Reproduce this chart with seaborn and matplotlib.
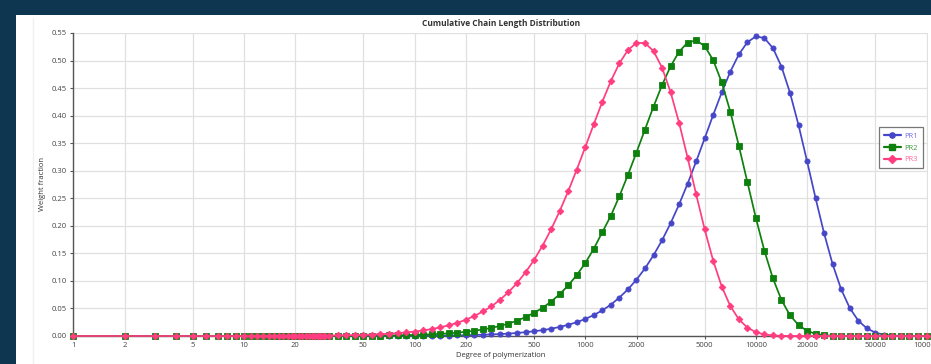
import matplotlib
matplotlib.use("Agg")
import matplotlib.pyplot as plt
from matplotlib.patches import Rectangle
from matplotlib.lines import Line2D
import seaborn as sns
import pandas as pd

# degree of polymerization (x grid): integers up to 30, then 20 points per decade
dp = [1, 2, 3, 4, 5, 6, 7, 8, 9, 10, 11, 12, 13, 14, 15, 16, 17, 18, 19, 20,
      21, 22, 23, 24, 25, 26, 27, 28, 29, 30,
      31.62, 35.48, 39.81, 44.67, 50.12, 56.23, 63.10, 70.79, 79.43, 89.13,
      100, 112.2, 125.9, 141.3, 158.5, 177.8, 199.5, 223.9, 251.2, 281.8,
      316.2, 354.8, 398.1, 446.7, 501.2, 562.3, 631.0, 707.9, 794.3, 891.3,
      1000, 1122, 1259, 1413, 1585, 1778, 1995, 2239, 2512, 2818,
      3162, 3548, 3981, 4467, 5012, 5623, 6310, 7079, 7943, 8913,
      10000, 11220, 12589, 14125, 15849, 17783, 19953, 22387, 25119, 28184,
      31623, 35481, 39811, 44668, 50119, 56234, 63096, 70795, 79433, 89125, 100000]

pr1 = [0, 0, 0, 0, 0, 0, 0, 0, 0, 0, 0, 0, 0, 0, 0, 0, 0, 0, 0, 0,
       0, 0, 0, 0, 0, 0, 0, 0, 0, 0,
       0.0000, 0.0000, 0.0001, 0.0001, 0.0001, 0.0001, 0.0001, 0.0002, 0.0002, 0.0003,
       0.0004, 0.0005, 0.0006, 0.0007, 0.0009, 0.0012, 0.0014, 0.0018, 0.0023, 0.0028,
       0.0035, 0.0044, 0.0055, 0.0069, 0.0086, 0.0106, 0.0132, 0.0164, 0.0203, 0.0250,
       0.0309, 0.0380, 0.0465, 0.0569, 0.0698, 0.0846, 0.1021, 0.1227, 0.1465, 0.1737,
       0.2045, 0.2389, 0.2765, 0.3168, 0.3589, 0.4014, 0.4423, 0.4797, 0.5110, 0.5332,
       0.5439, 0.5408, 0.5225, 0.4890, 0.4413, 0.3826, 0.3171, 0.2499, 0.1861, 0.1299,
       0.0846, 0.0508, 0.0279, 0.0139, 0.0062, 0.0024, 0.0009, 0.0003, 0.0001, 0.0000, 0.0000]

pr2 = [0, 0, 0, 0, 0, 0, 0, 0, 0, 0, 0, 0, 0, 0, 0, 0, 0, 0, 0, 0,
       0, 0, 0, 0, 0, 0, 0, 0, 0, 0,
       0.0002, 0.0003, 0.0003, 0.0004, 0.0005, 0.0007, 0.0008, 0.0010, 0.0013, 0.0016,
       0.0020, 0.0025, 0.0032, 0.0039, 0.0049, 0.0061, 0.0077, 0.0095, 0.0118, 0.0147,
       0.0182, 0.0225, 0.0278, 0.0342, 0.0420, 0.0511, 0.0624, 0.0758, 0.0917, 0.1104,
       0.1322, 0.1584, 0.1884, 0.2182, 0.2538, 0.2922, 0.3330, 0.3748, 0.4163, 0.4553,
       0.4894, 0.5161, 0.5327, 0.5366, 0.5262, 0.5006, 0.4603, 0.4074, 0.3456, 0.2795,
       0.2142, 0.1546, 0.1044, 0.0653, 0.0375, 0.0198, 0.0093, 0.0039, 0.0015, 0.0004,
       0.0001, 0, 0, 0, 0, 0, 0, 0, 0, 0, 0]

pr3 = [0, 0, 0, 0, 0, 0, 0, 0, 0, 0, 0, 0, 0, 0, 0, 0, 0, 0, 0, 0,
       0, 0, 0, 0, 0, 0, 0, 0, 0, 0,
       0.0009, 0.0011, 0.0014, 0.0017, 0.0021, 0.0027, 0.0034, 0.0042, 0.0052, 0.0065,
       0.0081, 0.0101, 0.0126, 0.0156, 0.0194, 0.0239, 0.0295, 0.0363, 0.0445, 0.0537,
       0.0655, 0.0795, 0.0960, 0.1155, 0.1380, 0.1640, 0.1935, 0.2265, 0.2627, 0.3017,
       0.3427, 0.3844, 0.4252, 0.4628, 0.4950, 0.5189, 0.5320, 0.5319, 0.5172, 0.4872,
       0.4429, 0.3870, 0.3235, 0.2571, 0.1934, 0.1365, 0.0897, 0.0545, 0.0303, 0.0153,
       0.0069, 0.0028, 0.0010, 0.0003, 0.0001, 0, 0, 0, 0, 0,
       0, 0, 0, 0, 0, 0, 0, 0, 0, 0, 0]

series = ['PR1', 'PR2', 'PR3']
colors = {'PR1': '#4646c8', 'PR2': '#0e800e', 'PR3': '#ff3d80'}
text_colors = {'PR1': '#7070e0', 'PR2': '#3c9a3c', 'PR3': '#ff6a9c'}
markers = {'PR1': 'o', 'PR2': 's', 'PR3': 'D'}
x_ticks = [1, 2, 5, 10, 20, 50, 100, 200, 500, 1000, 2000, 5000, 10000, 20000, 50000, 100000]

frames = []
for name, vals in zip(series, [pr1, pr2, pr3]):
    frames.append(pd.DataFrame({'dp': dp, 'w': vals, 'series': name}))
df = pd.concat(frames, ignore_index=True)

sns.set_style('whitegrid')
plt.rcParams['font.family'] = ['Open Sans', 'DejaVu Sans']

W, H = 931, 364
fig = plt.figure(figsize=(W / 100, H / 100), dpi=100, facecolor='#0f3651')
fig.patches.append(Rectangle((16 / W, 0), 1, (H - 15) / H, transform=fig.transFigure,
                             facecolor='white', edgecolor='none', zorder=-2))
fig.add_artist(Line2D([33 / W, 33 / W], [0, (H - 18) / H], color='#f0f0f0', lw=1, zorder=-1))

ax = fig.add_axes([73.3 / W, 28 / H, (928 - 73.3) / W, (336 - 33) / H])
sns.lineplot(data=df, x='dp', y='w', hue='series', style='series', palette=colors,
             markers=markers, dashes=False, estimator=None, linewidth=1.25,
             markersize=3.7, legend=False, ax=ax)
for line, name in zip(ax.lines, series):
    line.set_markeredgecolor(colors[name])
    line.set_markerfacecolor(colors[name])
    line.set_markeredgewidth(0.6)
    line.set_clip_on(False)
    line.set_zorder(3)
    if name == 'PR3':
        line.set_markersize(3.4)

ax.set_xscale('log')
ax.set_xlim(1, 1.02e5)
ax.set_ylim(0, 0.55)
ax.set_xticks(x_ticks)
ax.set_xticklabels([str(t) for t in x_ticks])
ax.minorticks_off()
ax.set_yticks([i * 0.05 for i in range(12)])
ax.set_yticklabels([f'{i * 0.05:.2f}' for i in range(12)])

ax.grid(True, color='#e0e0e0', lw=0.9)
for side in ['top', 'right']:
    ax.spines[side].set_visible(False)
for side in ['left', 'bottom']:
    ax.spines[side].set_color('#555555')
    ax.spines[side].set_linewidth(1.0)
ax.tick_params(axis='both', which='major', labelsize=5.5, labelcolor='#444444',
               length=2.5, width=0.8, color='#555555', pad=2, direction='out')
ax.tick_params(axis='x', bottom=True)
ax.tick_params(axis='y', left=True)

ax.set_title('Cumulative Chain Length Distribution', fontsize=6, fontweight='bold',
             color='#333333', pad=5)
ax.set_xlabel('Degree of polymerization', fontsize=5.5, color='#333333', labelpad=2)
ax.set_ylabel('Weight fraction', fontsize=5.5, color='#333333', labelpad=4)

handles = [Line2D([], [], color=colors[n], marker=markers[n], markersize=3.8,
                  markeredgecolor=colors[n], lw=1.6) for n in series]
leg = ax.legend(handles, series, loc='center right', bbox_to_anchor=(0.9945, 0.621),
                fontsize=5.5, frameon=True, fancybox=False, edgecolor='#555555',
                handlelength=2.2, borderpad=0.65, labelspacing=0.6,
                handletextpad=0.5, borderaxespad=0.0)
for txt, n in zip(leg.get_texts(), series):
    txt.set_color(text_colors[n])
leg.get_frame().set_linewidth(0.9)

fig.savefig('out.png', dpi=100, facecolor=fig.get_facecolor())
